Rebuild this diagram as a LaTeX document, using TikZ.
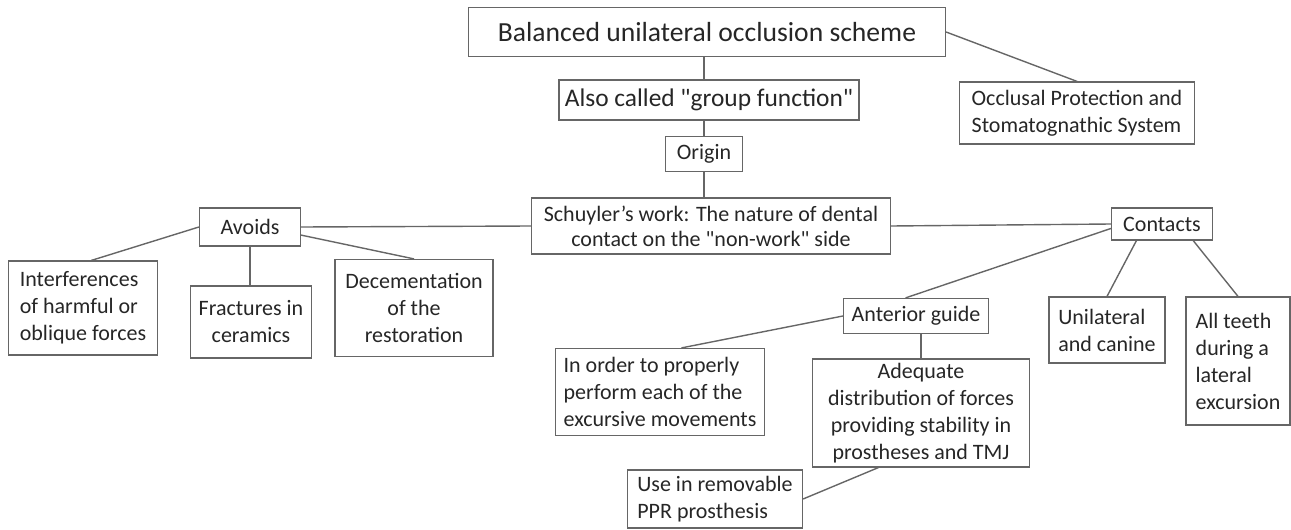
\documentclass[tikz,border=0pt]{standalone}
\usepackage{fontspec}
\setmainfont{Carlito}
\usepackage{tikz}
\usetikzlibrary{positioning, calc}
\tikzset{box/.style={rectangle, draw=black!60, line width=0.6pt, text=black!85, inner sep=0pt, align=center, font=\fontsize{11}{13.5}\selectfont},
         lbox/.style={box, align=left},
         link/.style={draw=black!60, line width=0.7pt}}

\begin{document}
\begin{tikzpicture}[x=0.5pt, y=-0.5pt]
        \useasboundingbox (0,0) rectangle (1291,530);

        \node (title)[box, minimum width=238.5pt, minimum height=24.5pt, font=\fontsize{13.8}{16}\selectfont] at (707,32) {Balanced unilateral occlusion scheme};
        \node (called)[box, minimum width=150pt, minimum height=20pt, font=\fontsize{12.7}{14.5}\selectfont] at (709,100) {Also called \textquotedbl group function\textquotedbl};
        \node (origin)[box, minimum width=38.5pt, minimum height=17.5pt] at (704,154) {Origin};
        \node (schuyler)[box, minimum width=179.5pt, minimum height=28pt, font=\fontsize{11}{12.5}\selectfont] at (711,226) {Schuyler's work: The nature of dental\\contact on the \textquotedbl non-work\textquotedbl{} side};
        \node (occlusal)[lbox, minimum width=117.5pt, minimum height=31pt] at (1077,113) {Occlusal Protection and\\Stomatognathic System};
        \draw [link] (origin |- title.south) -- (origin |- called.north);
        \draw [link] (origin |- called.south) -- (origin.north);
        \draw [link] (origin.south) -- (origin |- schuyler.north);
        \draw [link] (title.east) -- (occlusal.north);

        \node (avoids)[box, minimum width=50.5pt, minimum height=19pt] at (250,227) {Avoids};
        \node (interf)[lbox, minimum width=74.5pt, minimum height=47pt] at (83,308) {Interferences\\of harmful or\\oblique forces};
        \node (fract)[box, minimum width=60.5pt, minimum height=36pt] at (251,322) {Fractures in\\ceramics};
        \node (decem)[box, minimum width=79pt, minimum height=48.5pt] at (414,308) {Decementation\\of the\\restoration};
        \draw [link] (avoids.east) -- (schuyler.west);
        \draw [link] (avoids.west) -- (interf.80);
        \draw [link] (avoids.south) -- (avoids.south |- fract.north);
        \draw [link] (avoids.-9) -- (decem.north);

        \node (contacts)[box, minimum width=50.5pt, minimum height=16pt] at (1162,224) {Contacts};
        \node (anterior)[box, minimum width=72.5pt, minimum height=17.5pt] at (916,316) {Anterior guide};
        \node (inorder)[lbox, minimum width=104.5pt, minimum height=43.5pt] at (660,392) {In order to properly\\perform each of the\\excursive movements};
        \node (adequate)[box, minimum width=108.5pt, minimum height=54pt] at (921,413) {Adequate\\distribution of forces\\providing stability in\\prostheses and TMJ};
        \node (removable)[lbox, minimum width=87.5pt, minimum height=29pt] at (715,499) {Use in removable\\PPR prosthesis};
        \node (unilat)[lbox, minimum width=58pt, minimum height=33pt] at (1107,330) {Unilateral\\and canine};
        \node (allteeth)[lbox, minimum width=52pt, minimum height=64pt] at (1238,361) {All teeth\\during a\\lateral\\excursion};
        \draw [link] (schuyler.east) -- (contacts.west);
        \draw [link] (contacts.185) -- (anterior.120);
        \draw [link] (anterior.west) -- (inorder.64);
        \draw [link] (adequate.north |- anterior.south) -- (adequate.north);
        \draw [link] (adequate.232) -- (removable.east);
        \draw [link] (contacts.213) -- (unilat.north);
        \draw [link] (contacts.332) -- (allteeth.north);
\end{tikzpicture}
\end{document}
